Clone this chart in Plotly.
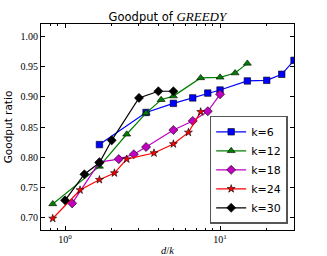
import plotly.graph_objects as go

# ---- data ----
x_k6 = [1.667, 3.333, 5.0, 6.667, 8.333, 10.0, 15.0, 20.0, 25.0, 30.0]
y_k6 = [0.821, 0.874, 0.889, 0.898, 0.906, 0.911, 0.926, 0.927, 0.937, 0.960]

x_k12 = [0.833, 1.667, 2.5, 3.333, 4.167, 5.0, 7.5, 10.0, 12.5, 15.0]
y_k12 = [0.723, 0.785, 0.838, 0.873, 0.895, 0.901, 0.931, 0.932, 0.939, 0.955]

x_k18 = [1.111, 1.667, 2.222, 2.778, 3.333, 5.0, 6.667, 8.333, 10.0]
y_k18 = [0.724, 0.792, 0.797, 0.805, 0.817, 0.845, 0.860, 0.876, 0.904]

x_k24 = [0.833, 1.25, 1.667, 2.083, 2.5, 3.75, 5.0, 6.25, 7.5]
y_k24 = [0.699, 0.746, 0.763, 0.774, 0.797, 0.807, 0.822, 0.841, 0.875]

x_k30 = [1.0, 1.333, 1.667, 2.0, 3.0, 4.0, 5.0]
y_k30 = [0.729, 0.772, 0.791, 0.828, 0.898, 0.909, 0.909]

series = [
    ("k=6", x_k6, y_k6, "#0000ff", "square", 6.5),
    ("k=12", x_k12, y_k12, "#007f00", "triangle-up", 7),
    ("k=18", x_k18, y_k18, "#bf00bf", "diamond", 7),
    ("k=24", x_k24, y_k24, "#ff0000", "star", 6),
    ("k=30", x_k30, y_k30, "#000000", "diamond", 7),
]

y_ticks = [0.70, 0.75, 0.80, 0.85, 0.90, 0.95, 1.00]
x_ticks = [1, 10]
x_tick_text = ["10<sup>0</sup>", "10<sup>1</sup>"]
x_minor = [0.7, 0.8, 0.9, 2, 3, 4, 5, 6, 7, 8, 9, 20, 30]

fig = go.Figure()
for name, xs, ys, col, sym, sz in series:
    fig.add_trace(go.Scatter(
        x=xs, y=ys, name=name, mode="lines+markers",
        line=dict(color=col, width=1.2),
        marker=dict(symbol=sym, size=sz, color=col,
                    line=dict(color="#000000", width=0.6)),
    ))

fig.update_layout(
    width=327, height=256,
    margin=dict(l=41, r=33, t=24, b=26),
    paper_bgcolor="white", plot_bgcolor="white",
    showlegend=True,
    title=dict(
        text="Goodput of <span style='font-family:Liberation Serif;font-style:italic;font-size:13px'>GREEDY</span>",
        x=0.512, xanchor="center", y=0.935, yanchor="middle",
        font=dict(family="DejaVu Sans", size=11.5, color="black"),
    ),
    legend=dict(
        x=0.975, xanchor="right", y=0.03, yanchor="bottom",
        bgcolor="white", bordercolor="#555555", borderwidth=1.5,
        font=dict(family="DejaVu Sans", size=11, color="black"),
        tracegroupgap=0,
    ),
)

fig.update_xaxes(
    type="log", range=[-0.155, 1.477], automargin=False,
    tickvals=x_ticks, ticktext=x_tick_text,
    ticks="inside", ticklen=4, tickcolor="black",
    showline=True, linecolor="black", linewidth=1, mirror="allticks",
    showgrid=False, zeroline=False,
    tickfont=dict(family="Liberation Serif", size=10, color="black"),
    minor=dict(tickvals=x_minor, ticks="inside", ticklen=2, tickcolor="black", showgrid=False),
    title=dict(text="<i>d</i>/<i>k</i>", standoff=8,
               font=dict(family="Liberation Serif", size=10.5, color="black")),
)
fig.update_yaxes(
    range=[0.68, 1.02], automargin=False,
    tickvals=y_ticks, tickformat=".2f",
    ticks="inside", ticklen=4, tickcolor="black",
    showline=True, linecolor="black", linewidth=1, mirror="allticks",
    showgrid=False, zeroline=False,
    tickfont=dict(family="Liberation Serif", size=10, color="black"),
    title=dict(text="Goodput ratio", standoff=5,
               font=dict(family="DejaVu Sans", size=10.5, color="black")),
)

fig.write_html("out.html", config={"displayModeBar": False},
               post_script="document.body.style.margin='0px';")
